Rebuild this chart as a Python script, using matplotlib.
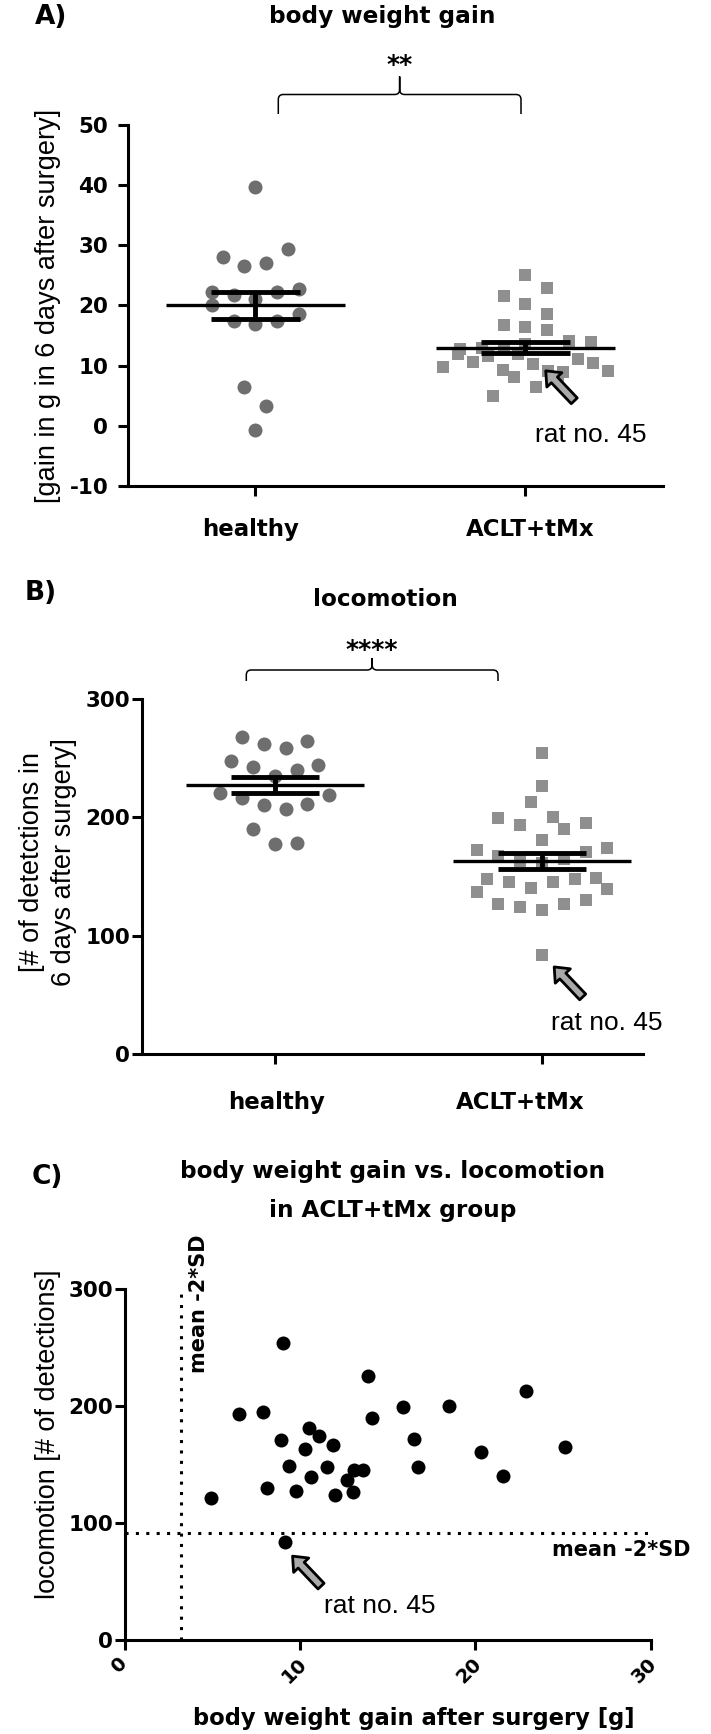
import numpy as np
import matplotlib
matplotlib.use("Agg")
import matplotlib.pyplot as plt
from matplotlib.path import Path
from matplotlib.patches import PathPatch, FancyArrowPatch
from matplotlib.transforms import IdentityTransform, ScaledTranslation

plt.rcParams['font.family'] = ['DejaVu Sans']
plt.rcParams['axes.unicode_minus'] = False

# ---------------- data ----------------
groups = ["healthy", "ACLT+tMx"]
healthy_gain = [-0.7, 6.5, 3.3, 20.0, 17.5, 17.0, 17.5, 18.5,
                22.3, 21.8, 21.0, 22.2, 22.7, 28.0, 26.5, 27.1, 29.3, 39.6]
healthy_loco = [190, 177, 178, 220, 216, 210, 207, 211, 219,
                247, 242, 235, 240, 244, 268, 262, 258, 264]
# ACLT+tMx animals: body weight gain [g] and locomotion [# detections], paired
aclt_gain = [12.7, 9.75, 12.0, 4.9, 13.0, 8.1, 10.6, 11.55, 13.1, 21.6,
             13.6, 16.7, 9.35, 16.5, 11.9, 10.3, 9.15, 20.3, 25.1, 8.9,
             11.1, 15.85, 6.5, 10.5, 14.1, 7.9, 22.9, 18.5, 13.9, 9.05]
aclt_loco = [136.5, 127, 124, 121.5, 126.5, 130, 139, 147.5, 145.5, 140.5,
             145.5, 147.5, 149, 172, 167, 163, 84, 161, 165, 171,
             174, 199, 193, 181, 190, 195, 213, 200, 226, 254]
rat_index = 16
rat_label = "rat no. 45"
gain_yticks = [-10, 0, 10, 20, 30, 40, 50]
loco_yticks = [0, 100, 200, 300]
scatter_xticks = [0, 10, 20, 30]
sig_gain = "**"
sig_loco = "****"

# ---------------- layout helpers ----------------
W, H, DPI = 711, 1734, 100
fig = plt.figure(figsize=(W / DPI, H / DPI), dpi=DPI)
fig.patch.set_facecolor("white")


def rect(l, t, r, b):
    return [l / W, 1 - b / H, (r - l) / W, (b - t) / H]


def F(x, y):
    return (x / W, 1 - y / H)


C_CIRCLE = "#6e6e6e"
C_SQUARE = "#8f8f8f"
REG = "Liberation Sans"
TICK_FS = 15.5


def style_axes(ax):
    for s in ["top", "right"]:
        ax.spines[s].set_visible(False)
    for s in ["left", "bottom"]:
        ax.spines[s].set_linewidth(2.2)
    ax.tick_params(axis="both", direction="out", length=7.2, width=2.2, colors="black")
    ax.patch.set_alpha(0)


def shift_labels(labels, dxs):
    for lab, dx in zip(labels, dxs):
        lab.set_transform(lab.get_transform() +
                          ScaledTranslation(dx / DPI, 0, fig.dpi_scale_trans))


def row_layout(ax, xc, values, thresh_px=21.5, spacing_px=21.8, max_half=0.305):
    """Column-scatter layout: points grouped in rows, each row centred."""
    vals = np.asarray(values, float)
    ys = ax.transData.transform(np.column_stack([np.full(len(vals), xc), vals]))[:, 1]
    pxu = ax.transData.transform((1, 0))[0] - ax.transData.transform((0, 0))[0]
    order = np.argsort(vals, kind="stable")
    rows, cur, start = [], [], None
    for i in order:
        if cur and ys[i] - start > thresh_px:
            rows.append(cur)
            cur = []
        if not cur:
            start = ys[i]
        cur.append(i)
    rows.append(cur)
    xs = np.full(len(vals), float(xc))
    for row in rows:
        row = sorted(row)
        n = len(row)
        if n > 1:
            sp = min(spacing_px, 2 * max_half * pxu / (n - 1))
            for k, i in enumerate(row):
                xs[i] = xc + (k - (n - 1) / 2) * sp / pxu
    return xs


def mean_sem(ax, xc, vals):
    v = np.asarray(vals, float)
    m = v.mean()
    se = v.std(ddof=1) / np.sqrt(len(v))
    ax.hlines(m, xc - 0.332, xc + 0.332, color="black", lw=2.4, zorder=3)
    ax.hlines([m - se, m + se], xc - 0.165, xc + 0.165, color="black", lw=3.5, zorder=3)
    ax.vlines(xc, m - se, m + se, color="black", lw=3.5, zorder=3)


def brace(x0, x1, ybar, yend, ytip, r=5.0):
    xc = (x0 + x1) / 2
    pts = [(x0, yend), (x0, ybar + r), (x0, ybar), (x0 + r, ybar),
           (xc - r, ybar), (xc, ybar), (xc, ybar - r), (xc, ytip),
           (xc, ybar - r), (xc, ybar), (xc + r, ybar),
           (x1 - r, ybar), (x1, ybar), (x1, ybar + r), (x1, yend)]
    codes = [Path.MOVETO, Path.LINETO, Path.CURVE3, Path.CURVE3,
             Path.LINETO, Path.CURVE3, Path.CURVE3, Path.LINETO,
             Path.LINETO, Path.CURVE3, Path.CURVE3,
             Path.LINETO, Path.CURVE3, Path.CURVE3, Path.LINETO]
    verts = [F(x, y) for x, y in pts]
    fig.add_artist(PathPatch(Path(verts, codes), fill=False, lw=1.1,
                             ec="black", transform=fig.transFigure))


def rat_arrow(ax, xy, tip_off, tail_off=(28.5, -30.0)):
    p = ax.transData.transform(xy)
    tip = (p[0] + tip_off[0], p[1] + tip_off[1])
    tail = (tip[0] + tail_off[0], tip[1] + tail_off[1])
    arr = FancyArrowPatch(tail, tip, transform=IdentityTransform(),
                          arrowstyle="simple,head_length=0.9,head_width=1.5,tail_width=0.6",
                          mutation_scale=10, fc="#a9a9a9", ec="black", lw=2.0,
                          shrinkA=0, shrinkB=0, zorder=6)
    fig.add_artist(arr)


# ================= Panel A =================
axA = fig.add_axes(rect(128, 124.7, 663, 486.2))
axA.set_xlim(-0.4715, 1.510)
axA.set_ylim(-10, 50)
style_axes(axA)
axA.set_yticks(gain_yticks, labels=[str(t) for t in gain_yticks],
               fontsize=TICK_FS, fontweight="bold")
axA.tick_params(axis="y", pad=7)
axA.set_xticks([0, 1], labels=groups, fontsize=16.5, fontweight="bold")
axA.tick_params(axis="x", pad=16)
shift_labels(axA.get_xticklabels(), [-4.5, 5.4])

xs_h = row_layout(axA, 0, healthy_gain)
xs_a = row_layout(axA, 1, aclt_gain)
axA.scatter(xs_h, healthy_gain, s=10.08 ** 2, marker="o", c=C_CIRCLE, linewidths=0, zorder=2)
axA.scatter(xs_a, aclt_gain, s=9.0 ** 2, marker="s", c=C_SQUARE, linewidths=0, zorder=2)
mean_sem(axA, 0, healthy_gain)
mean_sem(axA, 1, aclt_gain)
axA.set_ylabel("[gain in g in 6 days after surgery]", family=REG, fontsize=19.5,
               ha="center", va="center")
axA.yaxis.set_label_coords((47.6 - 128) / 535, (486.2 - 306) / 361.5)
rat_arrow(axA, (xs_a[rat_index], aclt_gain[rat_index]), (-2.0, 0.0))
fig.text(*F(535, 442.5), rat_label, family=REG, fontsize=19, ha="left", va="baseline")

fig.text(*F(35, 17), "A)", fontsize=19, fontweight="bold", ha="left", va="center")
fig.text(*F(382, 17), "body weight gain", fontsize=16.7, fontweight="bold",
         ha="center", va="center")
fig.text(*F(399.5, 72.5), sig_gain, fontsize=18, fontweight="bold",
         ha="center", va="baseline")
brace(278.3, 521.0, 94.5, 114.0, 76.5)

# ================= Panel B =================
axB = fig.add_axes(rect(142, 698.6, 643, 1054.2))
axB.set_xlim(-0.497, 1.378)
axB.set_ylim(0, 300)
style_axes(axB)
axB.set_yticks(loco_yticks, labels=[str(t) for t in loco_yticks],
               fontsize=TICK_FS, fontweight="bold")
axB.tick_params(axis="y", pad=1.5)
axB.set_xticks([0, 1], labels=groups, fontsize=16.5, fontweight="bold")
axB.tick_params(axis="x", pad=19)
shift_labels(axB.get_xticklabels(), [1.8, -22.0])

xs_hb = row_layout(axB, 0, healthy_loco)
xs_ab = row_layout(axB, 1, aclt_loco)
axB.scatter(xs_hb, healthy_loco, s=10.08 ** 2, marker="o", c=C_CIRCLE, linewidths=0, zorder=2)
axB.scatter(xs_ab, aclt_loco, s=9.0 ** 2, marker="s", c=C_SQUARE, linewidths=0, zorder=2)
mean_sem(axB, 0, healthy_loco)
mean_sem(axB, 1, aclt_loco)
axB.set_ylabel("[# of detetctions in\n6 days after surgery]", family=REG, fontsize=19.5,
               ha="center", va="center", linespacing=1.3)
axB.yaxis.set_label_coords((48.1 - 142) / 501, (1054.2 - 862) / 355.6)
rat_arrow(axB, (xs_ab[rat_index], aclt_loco[rat_index]), (12.2, -12.3))
fig.text(*F(551, 1030), rat_label, family=REG, fontsize=19, ha="left", va="baseline")

fig.text(*F(25, 593), "B)", fontsize=19, fontweight="bold", ha="left", va="center")
fig.text(*F(385.5, 599.5), "locomotion", fontsize=16.7, fontweight="bold",
         ha="center", va="center")
fig.text(*F(372, 657.0), sig_loco, fontsize=18, fontweight="bold",
         ha="center", va="baseline")
brace(246.3, 498.0, 670.0, 681.0, 658.0)

# ================= Panel C =================
axC = fig.add_axes(rect(124.7, 1289.2, 650.8, 1639.8))
axC.set_xlim(0, 30)
axC.set_ylim(0, 300)
style_axes(axC)
axC.set_yticks(loco_yticks, labels=[str(t) for t in loco_yticks],
               fontsize=TICK_FS, fontweight="bold")
axC.tick_params(axis="y", pad=1.0)
axC.set_xticks(scatter_xticks, labels=[str(t) for t in scatter_xticks],
               fontsize=14, fontweight="bold", rotation=45, ha="center", va="top")
axC.tick_params(axis="x", pad=3)
shift_labels(axC.get_xticklabels(), [-6.0] * len(scatter_xticks))

g = np.asarray(aclt_gain)
l = np.asarray(aclt_loco)
thr_gain = g.mean() - 2 * g.std(ddof=1)
thr_loco = l.mean() - 2 * l.std(ddof=1)
axC.axvline(thr_gain, color="black", lw=2.2, ls=(0, (1, 2.4)), zorder=1)
axC.axhline(thr_loco, color="black", lw=2.2, ls=(0, (1, 2.4)), zorder=1)
axC.scatter(aclt_gain, aclt_loco, s=10.08 ** 2, marker="o", c="black", linewidths=0, zorder=3)

axC.set_ylabel("locomotion [# of detections]", family=REG, fontsize=19.5,
               ha="center", va="center")
axC.yaxis.set_label_coords((47.6 - 124.7) / 526.1, (1639.8 - 1434) / 350.6)
axC.set_xlabel("body weight gain after surgery [g]", fontsize=16.3, fontweight="bold",
               ha="center", va="center")
axC.xaxis.set_label_coords((413.6 - 124.7) / 526.1, (1639.8 - 1719) / 350.6)

fig.text(*F(199.3, 1304), "mean -2*SD", fontsize=15, fontweight="bold",
         rotation=90, ha="center", va="center")
fig.text(*F(690, 1556), "mean -2*SD", fontsize=15, fontweight="bold",
         ha="right", va="baseline")
rat_arrow(axC, (aclt_gain[rat_index], aclt_loco[rat_index]), (7.4, -14.5))
fig.text(*F(324, 1613), rat_label, family=REG, fontsize=19, ha="left", va="baseline")

fig.text(*F(32, 1177), "C)", fontsize=19, fontweight="bold", ha="left", va="center")
fig.text(*F(393, 1191), "body weight gain vs. locomotion\nin ACLT+tMx group",
         fontsize=16.7, fontweight="bold", ha="center", va="center",
         multialignment="center", linespacing=1.9)

fig.savefig("out.png", dpi=DPI, facecolor="white")
